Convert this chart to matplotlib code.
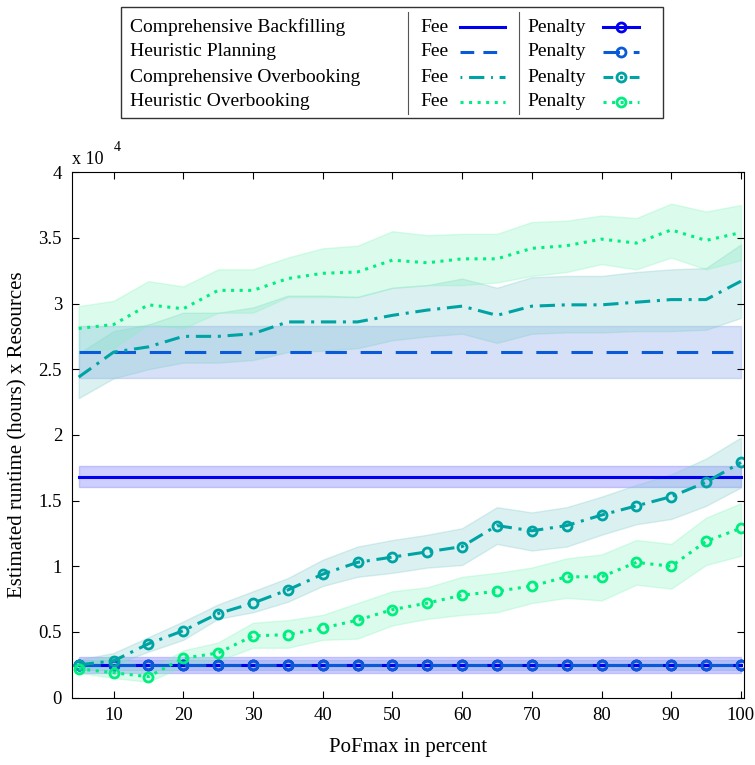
import matplotlib
matplotlib.use("Agg")
import matplotlib.pyplot as plt
from matplotlib.lines import Line2D
import numpy as np

plt.rcParams['font.family'] = ['Liberation Serif', 'DejaVu Serif']
plt.rcParams['mathtext.fontset'] = 'stix'

# PoFmax in percent
pof = [5, 10, 15, 20, 25, 30, 35, 40, 45, 50, 55, 60, 65, 70, 75, 80, 85, 90, 95, 100]

# values in units of 1e4 (runtime hours x resources)
cb_fee, cb_fee_lo, cb_fee_hi = 1.68, 1.60, 1.76
hp_fee, hp_fee_lo, hp_fee_hi = 2.63, 2.43, 2.83

co_fee = [2.44, 2.63, 2.67, 2.75, 2.75, 2.77, 2.86, 2.86, 2.86, 2.91, 2.95, 2.98, 2.91, 2.98, 2.99,
          2.99, 3.01, 3.03, 3.03, 3.17]
co_fee_hi = [2.62, 2.79, 2.84, 2.93, 2.93, 2.97, 3.06, 3.06, 3.05, 3.12, 3.14, 3.19, 3.12, 3.20, 3.21,
             3.21, 3.24, 3.26, 3.27, 3.45]
co_fee_lo = [2.28, 2.43, 2.50, 2.55, 2.55, 2.57, 2.63, 2.64, 2.66, 2.72, 2.75, 2.77, 2.70, 2.77, 2.78,
             2.78, 2.79, 2.79, 2.80, 2.89]

ho_fee = [2.81, 2.84, 2.99, 2.96, 3.10, 3.10, 3.19, 3.23, 3.24, 3.33, 3.31, 3.34, 3.34, 3.42, 3.44,
          3.49, 3.46, 3.56, 3.48, 3.54]
ho_fee_hi = [2.98, 3.02, 3.17, 3.13, 3.26, 3.26, 3.35, 3.42, 3.44, 3.55, 3.52, 3.53, 3.53, 3.62, 3.63,
             3.67, 3.65, 3.76, 3.70, 3.75]
ho_fee_lo = [2.62, 2.66, 2.84, 2.81, 2.93, 2.93, 3.05, 3.05, 3.05, 3.12, 3.14, 3.14, 3.16, 3.21, 3.24,
             3.30, 3.26, 3.35, 3.26, 3.33]

cb_pen, cb_pen_lo, cb_pen_hi = 0.25, 0.19, 0.31
hp_pen, hp_pen_lo, hp_pen_hi = 0.25, 0.21, 0.29

co_pen = [0.25, 0.28, 0.41, 0.51, 0.64, 0.72, 0.82, 0.94, 1.03, 1.07, 1.11, 1.15, 1.31, 1.27, 1.31,
          1.39, 1.46, 1.53, 1.64, 1.79]
co_pen_hi = [0.29, 0.34, 0.46, 0.58, 0.71, 0.81, 0.91, 1.05, 1.15, 1.20, 1.24, 1.29, 1.45, 1.41, 1.45,
             1.53, 1.62, 1.70, 1.82, 1.98]
co_pen_lo = [0.22, 0.25, 0.35, 0.44, 0.60, 0.65, 0.73, 0.85, 0.92, 0.95, 0.99, 1.01, 1.17, 1.12, 1.15,
             1.24, 1.32, 1.36, 1.46, 1.60]

ho_pen = [0.22, 0.19, 0.16, 0.30, 0.34, 0.47, 0.48, 0.53, 0.59, 0.67, 0.72, 0.78, 0.81, 0.85, 0.92,
          0.92, 1.03, 1.00, 1.19, 1.29]
ho_pen_hi = [0.26, 0.32, 0.21, 0.36, 0.42, 0.57, 0.59, 0.63, 0.72, 0.81, 0.84, 0.92, 0.95, 0.99, 1.06,
             1.09, 1.20, 1.17, 1.37, 1.48]
ho_pen_lo = [0.19, 0.15, 0.12, 0.24, 0.28, 0.38, 0.38, 0.44, 0.45, 0.55, 0.60, 0.63, 0.65, 0.72, 0.76,
             0.74, 0.86, 0.83, 1.01, 1.08]

x_ticks = [10, 20, 30, 40, 50, 60, 70, 80, 90, 100]
y_ticks = [0, 0.5, 1, 1.5, 2, 2.5, 3, 3.5, 4]

C_CB = '#0000f0'
C_HP = '#0a5ad8'
C_CO = '#00a3a3'
C_HO = '#00ee80'

names = ['Comprehensive Backfilling', 'Heuristic Planning',
         'Comprehensive Overbooking', 'Heuristic Overbooking']
colors = [C_CB, C_HP, C_CO, C_HO]
styles = ['-', (0, (7, 4.5)), (0, (5, 2.2, 1, 2.2)), (0, (1, 1.8))]
fills = ['#5555ff', '#6f95e8', '#7fcaca', '#7ff5bb']

# legend sample styles (short segments need their own dash phase)
fee_leg_styles = ['-', (0, (4.5, 3)), (0, (0.6, 2.2, 5, 2.2)), (0, (1, 1.8))]
pen_leg_styles = ['-', (1.6, (7, 4.5)), (1.8, (5, 2.2, 1, 2.2)), (0, (1, 1.8))]

W, H = 755, 765
fig = plt.figure(figsize=(W / 100, H / 100), dpi=100)
ax = fig.add_axes([0.095, 0.088, 0.891, 0.687])

x = np.array(pof)
ones = np.ones_like(x, dtype=float)

# bands
band_sets = [
    (cb_fee_lo * ones, cb_fee_hi * ones, 0),
    (hp_fee_lo * ones, hp_fee_hi * ones, 1),
    (co_fee_lo, co_fee_hi, 2),
    (ho_fee_lo, ho_fee_hi, 3),
    (cb_pen_lo * ones, cb_pen_hi * ones, 0),
    (hp_pen_lo * ones, hp_pen_hi * ones, 1),
    (co_pen_lo, co_pen_hi, 2),
    (ho_pen_lo, ho_pen_hi, 3),
]
for lo, hi, i in band_sets:
    ax.fill_between(x, lo, hi, facecolor=fills[i], alpha=0.28, edgecolor=fills[i], lw=1.0)

# fee lines
fee_lines = [cb_fee * ones, hp_fee * ones, co_fee, ho_fee]
for i, y in enumerate(fee_lines):
    ax.plot(x, y, color=colors[i], ls=styles[i], lw=2.2)

# penalty lines
pen_lines = [cb_pen * ones, hp_pen * ones, co_pen, ho_pen]
for i, y in enumerate(pen_lines):
    ax.plot(x, y, color=colors[i], ls=styles[i], lw=2.2, marker='o', ms=6.5,
            mfc='none', mew=2)

ax.set_xlim(4, 100.5)
ax.set_ylim(0, 4)
ax.set_xticks(x_ticks)
ax.set_yticks(y_ticks)
ax.set_yticklabels(['%g' % t for t in y_ticks])
ax.tick_params(direction='in', top=True, right=True, labelsize=13.5, length=5, pad=7)
for s in ax.spines.values():
    s.set_linewidth(0.8)

ax.set_xlabel('PoFmax in percent', fontsize=15, labelpad=10)
ax.set_ylabel('Estimated runtime (hours) x Resources', fontsize=15, labelpad=8)
ax.text(0.0, 1.008, 'x 10', transform=ax.transAxes, fontsize=13, ha='left', va='bottom')
ax.text(0.062, 1.035, '4', transform=ax.transAxes, fontsize=10, ha='left', va='bottom')

# custom legend box
def fx(px):
    return px / W


def fy(py):
    return 1 - py / H


box = plt.Rectangle((fx(121), fy(118)), fx(663) - fx(121), fy(7) - fy(118),
                    transform=fig.transFigure, fill=False, lw=1.0, ec='#333333')
fig.add_artist(box)
for sx in (408, 519):
    fig.add_artist(Line2D([fx(sx), fx(sx)], [fy(12), fy(114)], transform=fig.transFigure,
                          color='#555555', lw=0.8))

rows = [27, 52, 77, 102]
for i, name in enumerate(names):
    yy = fy(rows[i])
    fig.text(fx(130), yy, name, fontsize=14, va='center', ha='left')
    fig.text(fx(420), yy, 'Fee', fontsize=14, va='center', ha='left')
    fig.add_artist(Line2D([fx(460), fx(505)], [yy, yy], transform=fig.transFigure,
                          color=colors[i], ls=fee_leg_styles[i], lw=2.2))
    fig.text(fx(527), yy, 'Penalty', fontsize=14, va='center', ha='left')
    fig.add_artist(Line2D([fx(603), fx(621), fx(639)], [yy, yy, yy], transform=fig.transFigure,
                          color=colors[i], ls=pen_leg_styles[i], lw=2.2, marker='o', ms=6.5,
                          mfc='none', mew=2, markevery=[1]))

fig.savefig('out.png', dpi=100)
